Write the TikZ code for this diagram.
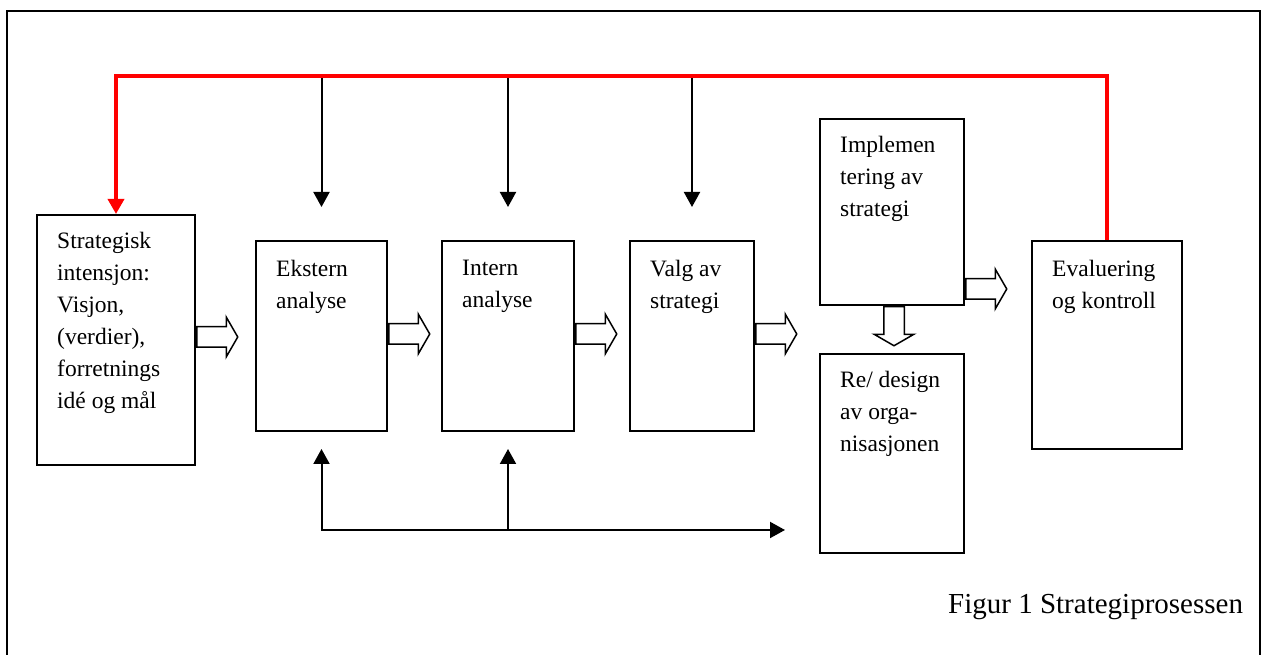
\documentclass[tikz,border=0pt]{standalone}
\usepackage{fontspec}
\setmainfont{Liberation Serif}
\usetikzlibrary{arrows.meta,positioning,shapes.arrows,calc}
\definecolor{fbred}{HTML}{FF0000}

\begin{document}
\begin{tikzpicture}[
  x=1pt, y=1pt,
  >={Triangle[width=16pt,length=15pt]},
  stage/.style={draw, line width=2pt, anchor=north west, inner sep=0pt},
  stagetxt/.style={anchor=north west, align=left, inner sep=0pt, font=\fontsize{23.5}{32}\selectfont},
  flow/.style={single arrow, draw, line width=1.5pt, fill=white, inner sep=0pt, text height=19pt, text depth=0pt, minimum width=38pt, minimum height=41pt, single arrow head extend=9.5pt, single arrow tip angle=120, anchor=tail},
  arr/.style={->, line width=2pt},
  fb/.style={->, line width=3.5pt, color=fbred, >={Triangle[width=16pt,length=15pt]}},
]
\useasboundingbox (0,0) rectangle (1262,655);

% frame
\draw[line width=2pt] (7,0) |- (1260,644) -- (1260,0);

\coordinate (top) at (0,579);
\coordinate (bot) at (0,125);

% stages
\node[stage, minimum width=158pt, minimum height=250pt] (strat) at (36,441) {};
\node[stage, minimum width=131pt, minimum height=190pt] (ekst) at (255,415) {};
\node[stage, minimum width=132pt, minimum height=190pt] (int) at (441,415) {};
\node[stage, minimum width=124pt, minimum height=190pt] (valg) at (629,415) {};
\node[stage, minimum width=144pt, minimum height=186pt] (impl) at (819,537) {};
\node[stage, minimum width=144pt, minimum height=199pt] (redes) at (819,302) {};
\node[stage, minimum width=150pt, minimum height=208pt] (eval) at (1031,415) {};

\node[stagetxt] (strat-t) at ([shift={(21,-18)}]strat.north west) {Strategisk\\intensjon:\\Visjon,\\(verdier),\\forretnings\\idé og mål};
\node[stagetxt] (ekst-t) at ([shift={(21,-20)}]ekst.north west) {Ekstern\\analyse};
\node[stagetxt] (int-t) at ([shift={(21,-20)}]int.north west) {Intern\\analyse};
\node[stagetxt] (valg-t) at ([shift={(21,-20)}]valg.north west) {Valg av\\strategi};
\node[stagetxt] (impl-t) at ([shift={(21,-18)}]impl.north west) {Implemen\\tering av\\strategi};
\node[stagetxt] (redes-t) at ([shift={(21,-18)}]redes.north west) {Re/ design\\av orga-\\nisasjonen};
\node[stagetxt] (eval-t) at ([shift={(21,-20)}]eval.north west) {Evaluering\\og kontroll};

% hollow flow arrows
\node[flow] (f1) at ([yshift=3pt]strat.east) {};
\node[flow] (f2) at ([yshift=2pt]ekst.east) {};
\node[flow] (f3) at ([yshift=2pt]int.east) {};
\node[flow] (f4) at ([yshift=2pt]valg.east) {};
\node[flow] (f5) at ([yshift=17pt]impl.south east) {};
\node[flow, shape border rotate=270, text height=0pt, text width=19pt, minimum height=39pt] (f6) at ([xshift=2pt]impl.south) {};

% inputs from the feedback line
\foreach \s in {ekst,int,valg}
  \draw[arr] (\s.north |- top) -- ([yshift=33pt]\s.north);

% feedback
\draw[fb] (eval.north) |- (top -| strat.north) -- (strat.north);

% bottom loop
\draw[<->, line width=2pt] ([yshift=-17pt]ekst.south) |- ([xshift=-34pt]bot -| redes.west);
\draw[arr] (int.south |- bot) -- ([yshift=-17pt]int.south);

\node[font=\fontsize{29}{34}\selectfont, anchor=base west, inner sep=0pt] (cap) at (948,41) {Figur 1 Strategiprosessen};

\end{tikzpicture}
\end{document}
